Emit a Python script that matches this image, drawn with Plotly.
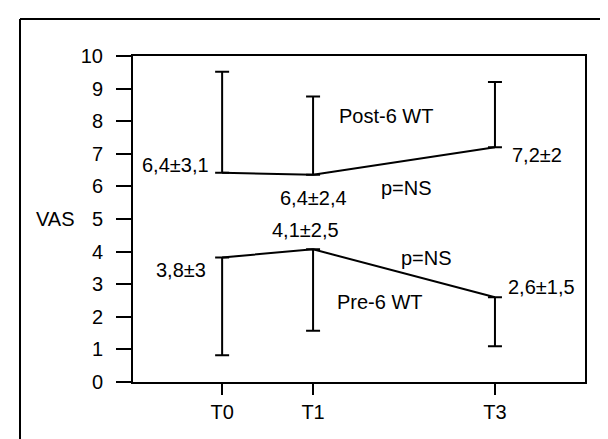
import plotly.graph_objects as go

# Data
time_points = [0, 1, 3]
tick_labels = ["T0", "T1", "T3"]
post_mean = [6.42, 6.36, 7.2]
post_sd = [3.1, 2.4, 2.0]
pre_mean = [3.82, 4.07, 2.6]
pre_sd = [3.0, 2.5, 1.5]
post_labels = ["6,4±3,1", "6,4±2,4", "7,2±2"]
pre_labels = ["3,8±3", "4,1±2,5", "2,6±1,5"]

FONT = "Liberation Sans, Arial, Helvetica, sans-serif"
FS = 20

fig = go.Figure()
fig.add_trace(go.Scatter(
    x=time_points, y=post_mean, mode="lines",
    line=dict(color="black", width=2),
    error_y=dict(type="data", symmetric=False, array=post_sd,
                 arrayminus=[0, 0, 0], color="black", thickness=2, width=7),
    showlegend=False, hoverinfo="skip"))
fig.add_trace(go.Scatter(
    x=time_points, y=pre_mean, mode="lines",
    line=dict(color="black", width=2),
    error_y=dict(type="data", symmetric=False, array=[0, 0, 0],
                 arrayminus=pre_sd, color="black", thickness=2, width=7),
    showlegend=False, hoverinfo="skip"))

annots = [
    dict(x=-0.12, y=6.66, text=post_labels[0], xanchor="right"),
    dict(x=1.0, y=5.64, text=post_labels[1], xanchor="center"),
    dict(x=3.165, y=6.96, text=post_labels[2], xanchor="left"),
    dict(x=-0.45, y=3.44, text=pre_labels[0], xanchor="center"),
    dict(x=0.92, y=4.66, text=pre_labels[1], xanchor="center"),
    dict(x=3.12, y=2.91, text=pre_labels[2], xanchor="left"),
    dict(x=1.80, y=8.16, text="Post-6 WT", xanchor="center"),
    dict(x=2.03, y=5.95, text="p=NS", xanchor="center"),
    dict(x=2.25, y=3.80, text="p=NS", xanchor="center"),
    dict(x=1.74, y=2.45, text="Pre-6 WT", xanchor="center"),
]
for a in annots:
    fig.add_annotation(x=a["x"], y=a["y"], text=a["text"], xanchor=a["xanchor"],
                       yanchor="middle", showarrow=False,
                       font=dict(family=FONT, size=FS, color="black"))

fig.add_annotation(x=(47 - 125) / 452, y=5, xref="paper", yref="y", text="VAS",
                   showarrow=False, xanchor="center", yanchor="middle",
                   font=dict(family=FONT, size=FS, color="black"))

# outer frame (left and top lines)
fig.add_shape(type="line", xref="paper", yref="paper",
              x0=(12 - 125) / 452, x1=(12 - 125) / 452,
              y0=(374 - 11) / 326, y1=(374 - 445) / 326,
              line=dict(color="black", width=2))
fig.add_shape(type="line", xref="paper", yref="paper",
              x0=(12 - 125) / 452, x1=(615 - 125) / 452,
              y0=(374 - 11) / 326, y1=(374 - 11) / 326,
              line=dict(color="black", width=2))

fig.update_layout(
    width=608, height=439,
    margin=dict(l=125, r=31, t=48, b=65),
    paper_bgcolor="white", plot_bgcolor="white",
    font=dict(family=FONT, size=FS, color="black"),
    xaxis=dict(range=[-0.98, 3.99], tickvals=time_points, ticktext=tick_labels,
               showline=True, linecolor="black", linewidth=2, mirror=True,
               ticks="outside", ticklen=11, tickwidth=2, tickcolor="black",
               showgrid=False, zeroline=False, ticklabelstandoff=0),
    yaxis=dict(range=[0, 10], dtick=1, tick0=0,
               showline=True, linecolor="black", linewidth=2, mirror=True,
               ticks="outside", ticklen=15, tickwidth=2, tickcolor="black",
               showgrid=False, zeroline=False, ticklabelstandoff=9),
)

fig.write_html("out.html")
